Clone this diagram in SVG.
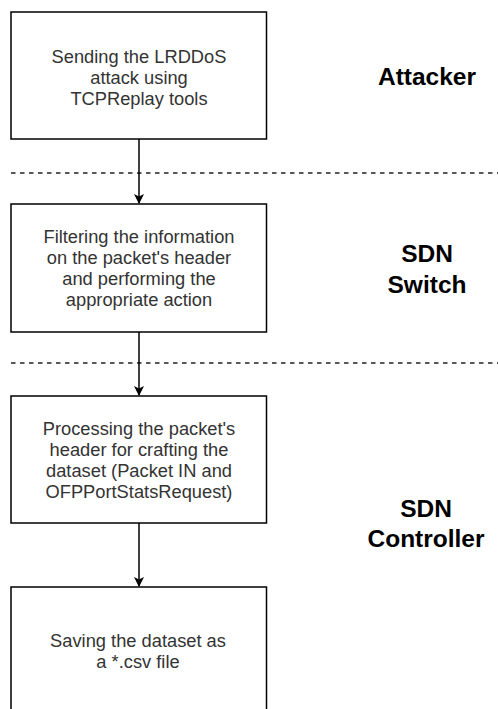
<svg xmlns="http://www.w3.org/2000/svg" width="498" height="709" viewBox="0 0 498 709">
  <style>
    .box { fill: #ffffff; stroke: #000000; stroke-width: 1.5; }
    .txt { font-family: "Liberation Sans", Arial, sans-serif; font-size: 18.3px; fill: #333333; text-anchor: middle; }
    .lbl { font-family: "Liberation Sans", Arial, sans-serif; font-size: 24.5px; font-weight: bold; fill: #000000; text-anchor: middle; }
    .conn { stroke: #000000; stroke-width: 1.5; fill: none; }
    .sep { stroke: #222222; stroke-width: 1.5; stroke-dasharray: 4.5 4.5; fill: none; }
  </style>
  <defs>
    <marker id="arrow" viewBox="0 0 10 10" refX="9" refY="5" markerWidth="11" markerHeight="10" markerUnits="userSpaceOnUse" orient="auto">
      <path d="M0,0 L10,5 L0,10 L2.5,5 Z" fill="#000000"/>
    </marker>
  </defs>
  <rect width="498" height="709" fill="#ffffff"/>

  <g id="separators">
    <line class="sep" x1="11" y1="173" x2="498" y2="173"/>
    <line class="sep" x1="11" y1="363" x2="498" y2="363"/>
  </g>

  <g id="connectors">
    <path class="conn" d="M139,139 L139,203" marker-end="url(#arrow)"/>
    <path class="conn" d="M139,332 L139,395" marker-end="url(#arrow)"/>
    <path class="conn" d="M139,523 L139,586" marker-end="url(#arrow)"/>
  </g>

  <g id="node-attack">
    <rect class="box" x="11" y="12" width="255.5" height="127"/>
    <text class="txt" x="139" y="63">Sending the LRDDoS</text>
    <text class="txt" x="139" y="84">attack using</text>
    <text class="txt" x="139" y="105">TCPReplay tools</text>
  </g>

  <g id="node-filter">
    <rect class="box" x="11" y="204" width="255.5" height="128"/>
    <text class="txt" x="139" y="243">Filtering the information</text>
    <text class="txt" x="139" y="264">on the packet's header</text>
    <text class="txt" x="139" y="285">and performing the</text>
    <text class="txt" x="139" y="306">appropriate action</text>
  </g>

  <g id="node-process">
    <rect class="box" x="11" y="396" width="255.5" height="127"/>
    <text class="txt" x="139" y="435">Processing the packet's</text>
    <text class="txt" x="139" y="456">header for crafting the</text>
    <text class="txt" x="139" y="477">dataset (Packet IN and</text>
    <text class="txt" x="139" y="498">OFPPortStatsRequest)</text>
  </g>

  <g id="node-save">
    <rect class="box" x="11" y="587" width="255.5" height="128"/>
    <text class="txt" x="138" y="647">Saving the dataset as</text>
    <text class="txt" x="138" y="668">a *.csv file</text>
  </g>

  <g id="label-attacker">
    <text class="lbl" x="427" y="85">Attacker</text>
  </g>

  <g id="label-switch">
    <text class="lbl" x="427" y="262">SDN</text>
    <text class="lbl" x="427" y="293">Switch</text>
  </g>

  <g id="label-controller">
    <text class="lbl" x="426" y="517">SDN</text>
    <text class="lbl" x="426" y="547">Controller</text>
  </g>
</svg>
